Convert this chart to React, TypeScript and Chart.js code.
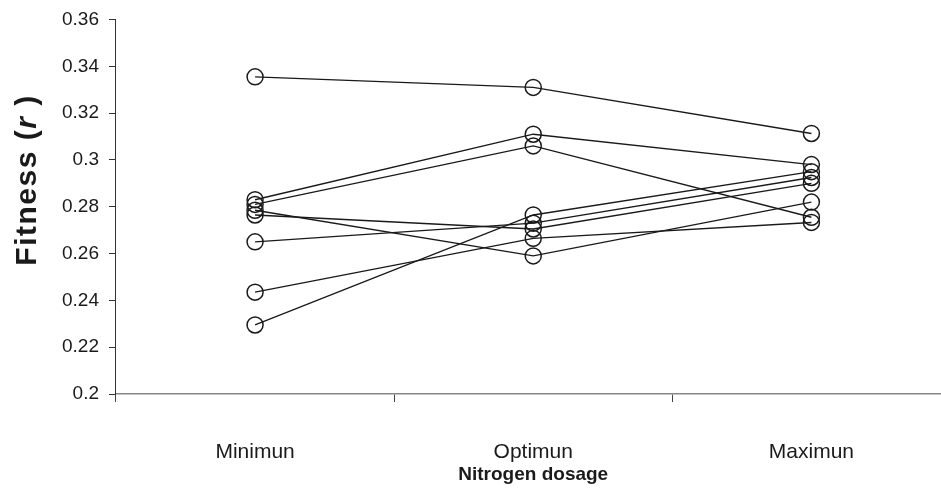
import React, { useEffect, useRef } from 'react';
import { Chart, registerables } from 'chart.js';

Chart.register(...registerables);

const categories = ['Minimun', 'Optimun', 'Maximun'];

const line1 = [0.3355, 0.331, 0.3113];
const line2 = [0.283, 0.311, 0.298];
const line3 = [0.281, 0.306, 0.2755];
const line4 = [0.2785, 0.259, 0.282];
const line5 = [0.2765, 0.2705, 0.29];
const line6 = [0.265, 0.273, 0.2925];
const line7 = [0.2435, 0.2665, 0.2733];
const line8 = [0.2295, 0.2765, 0.295];

const seriesList = [line1, line2, line3, line4, line5, line6, line7, line8];

const yMin = 0.2;
const yMax = 0.36;
const yStep = 0.02;

const xTitle = 'Nitrogen dosage';
const yTitleParts = ['Fitness (', 'r', ' )'];

const FONT = "'Liberation Sans', Arial, Helvetica, sans-serif";

const yTitlePlugin = {
  id: 'yTitlePlugin',
  afterDraw(chart: any) {
    const ctx = chart.ctx;
    ctx.save();
    const fonts = [
      `bold 30px ${FONT}`,
      `italic bold 30px ${FONT}`,
      `bold 30px ${FONT}`,
    ];
    try {
      (ctx as any).letterSpacing = '1.5px';
    } catch (e) {}
    let total = 0;
    const widths: number[] = [];
    yTitleParts.forEach((t, i) => {
      ctx.font = fonts[i];
      const w = ctx.measureText(t).width;
      widths.push(w);
      total += w;
    });
    ctx.translate(28, 180);
    ctx.rotate(-Math.PI / 2);
    ctx.fillStyle = '#1a1a1a';
    ctx.textBaseline = 'middle';
    ctx.textAlign = 'left';
    let x = -total / 2;
    yTitleParts.forEach((t, i) => {
      ctx.font = fonts[i];
      ctx.fillText(t, x, 0);
      x += widths[i];
    });
    ctx.restore();
  },
};

export default function App() {
  const ref = useRef<HTMLCanvasElement>(null);

  useEffect(() => {
    if (!ref.current) return;
    const chart = new Chart(ref.current, {
      type: 'line',
      data: {
        labels: categories,
        datasets: seriesList.map((s, i) => ({
          label: `Line ${i + 1}`,
          data: s,
          borderColor: '#1a1a1a',
          borderWidth: 1.4,
          pointRadius: 8,
          pointHoverRadius: 8,
          pointBorderWidth: 1.5,
          pointBorderColor: '#1a1a1a',
          pointBackgroundColor: 'rgba(0,0,0,0)',
          fill: false,
          tension: 0,
        })),
      },
      options: {
        animation: false,
        responsive: false,
        devicePixelRatio: 1,
        layout: { padding: { left: 52, right: 8, top: 4, bottom: 0 } },
        plugins: {
          legend: { display: false },
          tooltip: { enabled: false },
        },
        scales: {
          x: {
            type: 'category',
            offset: true,
            afterFit: (scale: any) => {
              scale.height = 96;
            },
            grid: {
              offset: true,
              drawOnChartArea: false,
              drawTicks: true,
              tickLength: 8,
              color: '#444',
            },
            border: { display: true, color: '#888', width: 1.5 },
            ticks: {
              color: '#1a1a1a',
              padding: 38,
              font: { family: FONT, size: 21 },
            },
            title: {
              display: true,
              text: xTitle,
              color: '#1a1a1a',
              font: { family: FONT, size: 19, weight: 'bold' },
              padding: { top: 2, bottom: 4 },
            },
          },
          y: {
            min: yMin,
            max: yMax,
            grid: {
              drawOnChartArea: false,
              drawTicks: true,
              tickLength: 7,
              color: '#333',
            },
            border: { display: true, color: '#333', width: 1 },
            ticks: {
              stepSize: yStep,
              color: '#1a1a1a',
              padding: 10,
              font: { family: FONT, size: 19, lineHeight: 1 },
              callback: (v: any) => String(parseFloat(Number(v).toFixed(2))),
            },
          },
        },
      },
      plugins: [yTitlePlugin],
    });
    return () => chart.destroy();
  }, []);

  return (
    <div
      style={{
        position: 'absolute',
        left: 0,
        top: 0,
        width: 941,
        height: 490,
        overflow: 'hidden',
        background: '#fff',
      }}
    >
      <canvas ref={ref} width={960} height={490} style={{ width: 960, height: 490, display: 'block' }} />
    </div>
  );
}
